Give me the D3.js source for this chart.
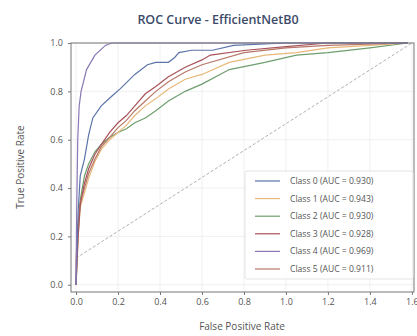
<!DOCTYPE html>
<html><head><meta charset="utf-8">
<script src="https://cdn.jsdelivr.net/npm/d3@7"></script>
<style>body{margin:0;background:#fff}svg{display:block}text{font-family:"Open Sans",sans-serif}</style>
</head><body><svg id="c" width="417" height="336"></svg>
<script>
const classNames = ["Class 0","Class 1","Class 2","Class 3","Class 4","Class 5"];
const aucValues = [0.930,0.943,0.930,0.928,0.969,0.911];
const colors = ["#5b74a8","#e8b87a","#6e9e6e","#a8525a","#8a78b4","#b87868"];
const xTicks = [0,0.2,0.4,0.6,0.8,1.0,1.2,1.4,1.6];
const yTicks = [0,0.2,0.4,0.6,0.8,1.0];
const fpr0 = [0,0.005,0.01,0.02,0.04,0.06,0.08,0.12,0.17,0.21,0.28,0.34,0.38,0.44,0.47,0.49,0.55,0.65,0.75,1.0,1.58];
const tpr0 = [0,0.15,0.30,0.45,0.52,0.62,0.69,0.74,0.78,0.81,0.87,0.91,0.92,0.92,0.94,0.96,0.97,0.97,0.99,1.0,1.0];
const fpr1 = [0,0.01,0.02,0.04,0.06,0.09,0.12,0.16,0.2,0.24,0.28,0.33,0.38,0.44,0.52,0.6,0.73,0.9,1.05,1.2,1.4,1.58];
const tpr1 = [0,0.2,0.32,0.38,0.44,0.51,0.56,0.60,0.63,0.66,0.70,0.74,0.77,0.81,0.85,0.87,0.92,0.95,0.96,0.98,0.99,1.0];
const fpr2 = [0,0.01,0.02,0.04,0.06,0.09,0.12,0.16,0.2,0.24,0.28,0.33,0.38,0.44,0.52,0.6,0.73,0.9,1.05,1.2,1.4,1.58];
const tpr2 = [0,0.22,0.35,0.45,0.50,0.55,0.58,0.61,0.63,0.645,0.67,0.69,0.72,0.76,0.80,0.83,0.89,0.92,0.95,0.96,0.98,1.0];
const fpr3 = [0,0.01,0.02,0.04,0.06,0.09,0.12,0.16,0.2,0.24,0.28,0.33,0.38,0.44,0.52,0.6,0.64,0.81,1.0,1.2,1.58];
const tpr3 = [0,0.2,0.33,0.42,0.48,0.54,0.58,0.63,0.67,0.70,0.74,0.79,0.82,0.86,0.90,0.93,0.95,0.97,0.985,1.0,1.0];
const fpr4 = [0,0.003,0.008,0.015,0.024,0.05,0.09,0.14,0.17,0.5,1.0,1.58];
const tpr4 = [0,0.3,0.6,0.74,0.80,0.89,0.95,0.99,1.0,1.0,1.0,1.0];
const fpr5 = [0,0,0.005,0.02,0.04,0.06,0.09,0.12,0.16,0.2,0.24,0.28,0.33,0.38,0.44,0.52,0.6,0.8,1.0,1.2,1.58];
const tpr5 = [0,0.09,0.2,0.34,0.40,0.46,0.52,0.57,0.61,0.65,0.68,0.72,0.76,0.80,0.84,0.88,0.91,0.96,0.98,0.99,1.0];
const diagX = [0,1.6];
const diagY = [0.11,1.0];

const fprs=[fpr0,fpr1,fpr2,fpr3,fpr4,fpr5], tprs=[tpr0,tpr1,tpr2,tpr3,tpr4,tpr5];
const svg=d3.select("#c");
const L=71,R=414,T=43,B=292;
const x=d3.scaleLinear().domain([-0.024,1.61]).range([L,R]);
const y=d3.scaleLinear().domain([-0.03,1.0]).range([B,T]);

// grid
svg.append("g").selectAll("line").data(xTicks).join("line")
 .attr("x1",d=>x(d)).attr("x2",d=>x(d)).attr("y1",T).attr("y2",B).attr("stroke","#f0f0f0");
svg.append("g").selectAll("line").data(yTicks).join("line")
 .attr("x1",L).attr("x2",R).attr("y1",d=>y(d)).attr("y2",d=>y(d)).attr("stroke","#f0f0f0");

// diagonal
svg.append("path").attr("d",d3.line()(diagX.map((d,i)=>[x(d),y(diagY[i])])))
 .attr("stroke","#b0b0b0").attr("stroke-width",1).attr("stroke-dasharray","3,2").attr("fill","none");

const line=d3.line();
const order=[2,1,5,3,0,4];
order.forEach(i=>{
 svg.append("path").attr("d",line(fprs[i].map((f,j)=>[x(f),y(tprs[i][j])])))
  .attr("fill","none").attr("stroke",colors[i]).attr("stroke-width",1.2);
});

// axes
const ax=svg.append("g").attr("transform",`translate(0,${B})`).call(d3.axisBottom(x).tickValues(xTicks).tickFormat(d3.format(".1f")).tickSize(3).tickPadding(4));
const ay=svg.append("g").attr("transform",`translate(${L},0)`).call(d3.axisLeft(y).tickValues(yTicks).tickFormat(d3.format(".1f")).tickSize(3).tickPadding(5));
[ax,ay].forEach(a=>{a.select(".domain").remove();a.selectAll("line").attr("stroke","#777");a.selectAll("text").attr("fill","#555").style("font-size","9px");});
svg.append("rect").attr("x",L).attr("y",T).attr("width",R-L).attr("height",B-T).attr("fill","none").attr("stroke","#777").attr("stroke-width",1);

// title & labels
svg.append("text").attr("x",218).attr("y",24).attr("text-anchor","middle").attr("fill","#3b4a68").style("font-size","12.5px").style("font-weight","600").text("ROC Curve - EfficientNetB0");
svg.append("text").attr("x",242).attr("y",330).attr("text-anchor","middle").attr("fill","#555").style("font-size","10px").text("False Positive Rate");
svg.append("text").attr("transform","translate(24,167) rotate(-90)").attr("text-anchor","middle").attr("fill","#555").style("font-size","10px").text("True Positive Rate");

// legend
const lg=svg.append("g");
lg.append("rect").attr("x",245).attr("y",171).attr("width",168).attr("height",108).attr("fill","#fff").attr("fill-opacity",0.85).attr("stroke","#e4e4e4").attr("rx",2);
classNames.forEach((c,i)=>{
 const yy=181+i*17.6;
 lg.append("line").attr("x1",255).attr("x2",280).attr("y1",yy).attr("y2",yy).attr("stroke",colors[i]).attr("stroke-width",1.2);
 lg.append("text").attr("x",290).attr("y",yy+3).attr("fill","#555").style("font-size","8.6px").text(`${c} (AUC = ${aucValues[i].toFixed(3)})`);
});
</script></body></html>
